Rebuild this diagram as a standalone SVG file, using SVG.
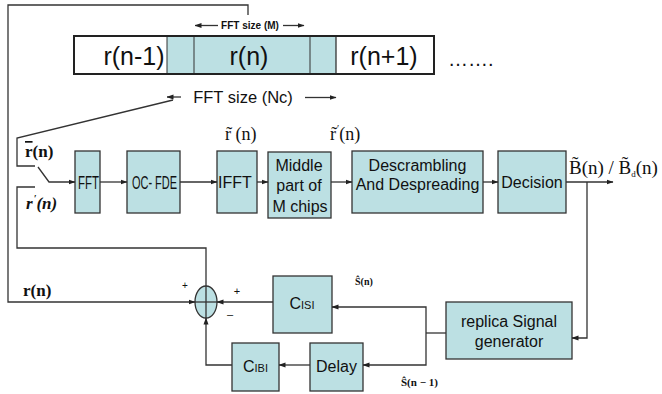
<svg xmlns="http://www.w3.org/2000/svg" width="662" height="394" viewBox="0 0 662 394">
<defs>
<marker id="ah" markerWidth="7" markerHeight="6" refX="6.5" refY="3" orient="auto" markerUnits="userSpaceOnUse">
<path d="M0,0.5 L7,3 L0,5.5 z" fill="#222"/>
</marker>
<style>
.box{fill:#bce0e3;stroke:#333;stroke-width:1.3}
.ln{fill:none;stroke:#333;stroke-width:1.3}
.t{font-family:"Liberation Sans",Arial,sans-serif;font-size:16px;fill:#111;text-anchor:middle}
.s{font-family:"Liberation Serif","Times New Roman",serif;fill:#111}
.big{font-family:"Liberation Sans",Arial,sans-serif;font-size:25px;fill:#111;text-anchor:middle}
</style>
</defs>
<rect width="662" height="394" fill="#fff"/>

<g id="frame-bar">
<rect x="74" y="36" width="360" height="38" fill="#fff"/>
<rect x="167" y="37" width="169" height="36" fill="#bce0e3"/>
<line x1="167" y1="36" x2="167" y2="74" stroke="#333" stroke-width="1"/>
<line x1="194" y1="36" x2="194" y2="74" stroke="#333" stroke-width="1"/>
<line x1="310" y1="36" x2="310" y2="74" stroke="#333" stroke-width="1"/>
<line x1="336" y1="36" x2="336" y2="74" stroke="#333" stroke-width="1.3"/>
<rect x="74" y="36" width="360" height="38" fill="none" stroke="#222" stroke-width="2"/>
<text class="big" x="134" y="65">r(n-1)</text>
<text class="big" x="249" y="65">r(n)</text>
<text class="big" x="384" y="65">r(n+1)</text>
<text x="448" y="66" font-family="Liberation Sans,Arial,sans-serif" font-size="20" fill="#111">…….</text>
<text x="250" y="29" font-family="Liberation Sans,Arial,sans-serif" font-size="10" font-weight="bold" text-anchor="middle" fill="#111">FFT size (M)</text>
<line x1="218" y1="25.5" x2="195" y2="25.5" class="ln" stroke-width="1" marker-end="url(#ah)"/>
<line x1="283" y1="25.5" x2="304" y2="25.5" class="ln" stroke-width="1" marker-end="url(#ah)"/>
<text x="243" y="103" font-family="Liberation Sans,Arial,sans-serif" font-size="16.5" text-anchor="middle" fill="#111">FFT size (Nc)</text>
<line x1="181" y1="97" x2="167" y2="97" class="ln" stroke-width="1" marker-end="url(#ah)"/>
<line x1="305" y1="97.5" x2="336" y2="97.5" class="ln" stroke-width="1" marker-end="url(#ah)"/>
</g>

<g id="fft"><rect class="box" x="75" y="151" width="25" height="62"/><text class="t" x="88.5" y="189" font-size="18" style="font-size:18px" textLength="21" lengthAdjust="spacingAndGlyphs">FFT</text></g>
<g id="ocfde"><rect class="box" x="127" y="151" width="53" height="62"/><text class="t" x="154.5" y="189" style="font-size:18px" textLength="45" lengthAdjust="spacingAndGlyphs">OC- FDE</text></g>
<g id="ifft"><rect class="box" x="217" y="151" width="40" height="62"/><text class="t" x="235" y="188">IFFT</text></g>
<g id="middle"><rect class="box" x="268" y="152" width="63" height="66"/>
<text class="t" x="299" y="171">Middle</text><text class="t" x="299" y="191">part of</text><text class="t" x="300" y="212">M chips</text></g>
<g id="descr"><rect class="box" x="352" y="151" width="131" height="62"/>
<text class="t" x="417.5" y="171">Descrambling</text><text class="t" x="417.5" y="190">And Despreading</text></g>
<g id="decision"><rect class="box" x="498" y="151" width="68" height="62"/><text class="t" x="532" y="188">Decision</text></g>
<g id="replica"><rect class="box" x="446" y="302" width="126" height="57"/>
<text class="t" x="509" y="327">replica Signal</text><text class="t" x="509" y="347">generator</text></g>
<g id="cisi"><rect class="box" x="273" y="276" width="59" height="57"/>
<text x="302" y="309" font-family="Liberation Sans,Arial,sans-serif" fill="#111" text-anchor="middle"><tspan font-size="16">C</tspan><tspan font-size="11">ISI</tspan></text></g>
<g id="delay"><rect class="box" x="310" y="343" width="53" height="48"/><text class="t" x="336.5" y="372">Delay</text></g>
<g id="cibi"><rect class="box" x="232" y="343" width="47" height="48"/>
<text x="255.5" y="372" font-family="Liberation Sans,Arial,sans-serif" fill="#111" text-anchor="middle"><tspan font-size="16">C</tspan><tspan font-size="11">IBI</tspan></text></g>
<g id="sum">
<ellipse cx="206" cy="302" rx="11" ry="16" fill="#bce0e3" stroke="#333" stroke-width="1.3"/>
<line x1="195" y1="302" x2="217" y2="302" stroke="#333" stroke-width="1.3"/>
<line x1="206" y1="286" x2="206" y2="318" stroke="#333" stroke-width="1.3"/>
</g>

<g id="connectors" class="ln">
<polyline class="ln" points="248,15 248,5 8,5 8,302 195,302" marker-end="url(#ah)"/>
<polyline class="ln" points="173,100 17,138 17,166 35,166"/>
<polyline class="ln" points="38,167 49,182 75,182" marker-end="url(#ah)"/>
<polyline class="ln" points="35,187 17,187 17,248 206,248 206,286"/>
<line class="ln" x1="100" y1="182" x2="127" y2="182" marker-end="url(#ah)"/>
<line class="ln" x1="180" y1="182" x2="217" y2="182" marker-end="url(#ah)"/>
<line class="ln" x1="257" y1="182" x2="268" y2="182" marker-end="url(#ah)"/>
<line class="ln" x1="331" y1="182" x2="352" y2="182" marker-end="url(#ah)"/>
<line class="ln" x1="483" y1="182" x2="498" y2="182" marker-end="url(#ah)"/>
<line class="ln" x1="566" y1="182" x2="613" y2="182" marker-end="url(#ah)"/>
<polyline class="ln" points="587,182 587,338 572,338" marker-end="url(#ah)"/>
<line class="ln" x1="446" y1="333" x2="426" y2="333"/>
<polyline class="ln" points="426,333 426,307 332,307" marker-end="url(#ah)"/>
<polyline class="ln" points="426,333 426,365 363,365" marker-end="url(#ah)"/>
<line class="ln" x1="273" y1="302" x2="217" y2="302" marker-end="url(#ah)"/>
<line class="ln" x1="310" y1="365" x2="279" y2="365" marker-end="url(#ah)"/>
<polyline class="ln" points="232,365 206,365 206,318" marker-end="url(#ah)"/>
</g>

<g id="labels">
<text class="s" x="25" y="157" font-size="17" font-weight="bold"><tspan text-decoration="overline">r</tspan>(n)</text>
<text class="s" x="26" y="209" font-size="17" font-style="italic" font-weight="bold">r<tspan font-size="10" dx="1" dy="-7">′</tspan><tspan dy="7">(n)</tspan></text>
<text class="s" x="225" y="140" font-size="18">r̃ (n)</text>
<text class="s" x="330" y="140" font-size="18">r̃<tspan font-size="10" dx="1" dy="-8">′</tspan><tspan dy="8">(n)</tspan></text>
<text class="s" x="569" y="174" font-size="19">B̃(n) / B̃<tspan font-size="9" dy="3">d</tspan><tspan dy="-3">(n)</tspan></text>
<text class="s" x="23" y="296" font-size="17" font-weight="bold">r(n)</text>
<text class="s" x="355" y="285" font-size="10" font-weight="bold">Ŝ(n)</text>
<text class="s" x="401" y="386" font-size="11" font-weight="bold">Ŝ(n − 1)</text>
<text x="185" y="289" font-family="Liberation Sans,Arial,sans-serif" font-size="10" fill="#111" text-anchor="middle">+</text>
<text x="237" y="295" font-family="Liberation Sans,Arial,sans-serif" font-size="11" fill="#111" text-anchor="middle">+</text>
<text x="230" y="318" font-family="Liberation Sans,Arial,sans-serif" font-size="11" fill="#111" text-anchor="middle">–</text>
</g>
</svg>
